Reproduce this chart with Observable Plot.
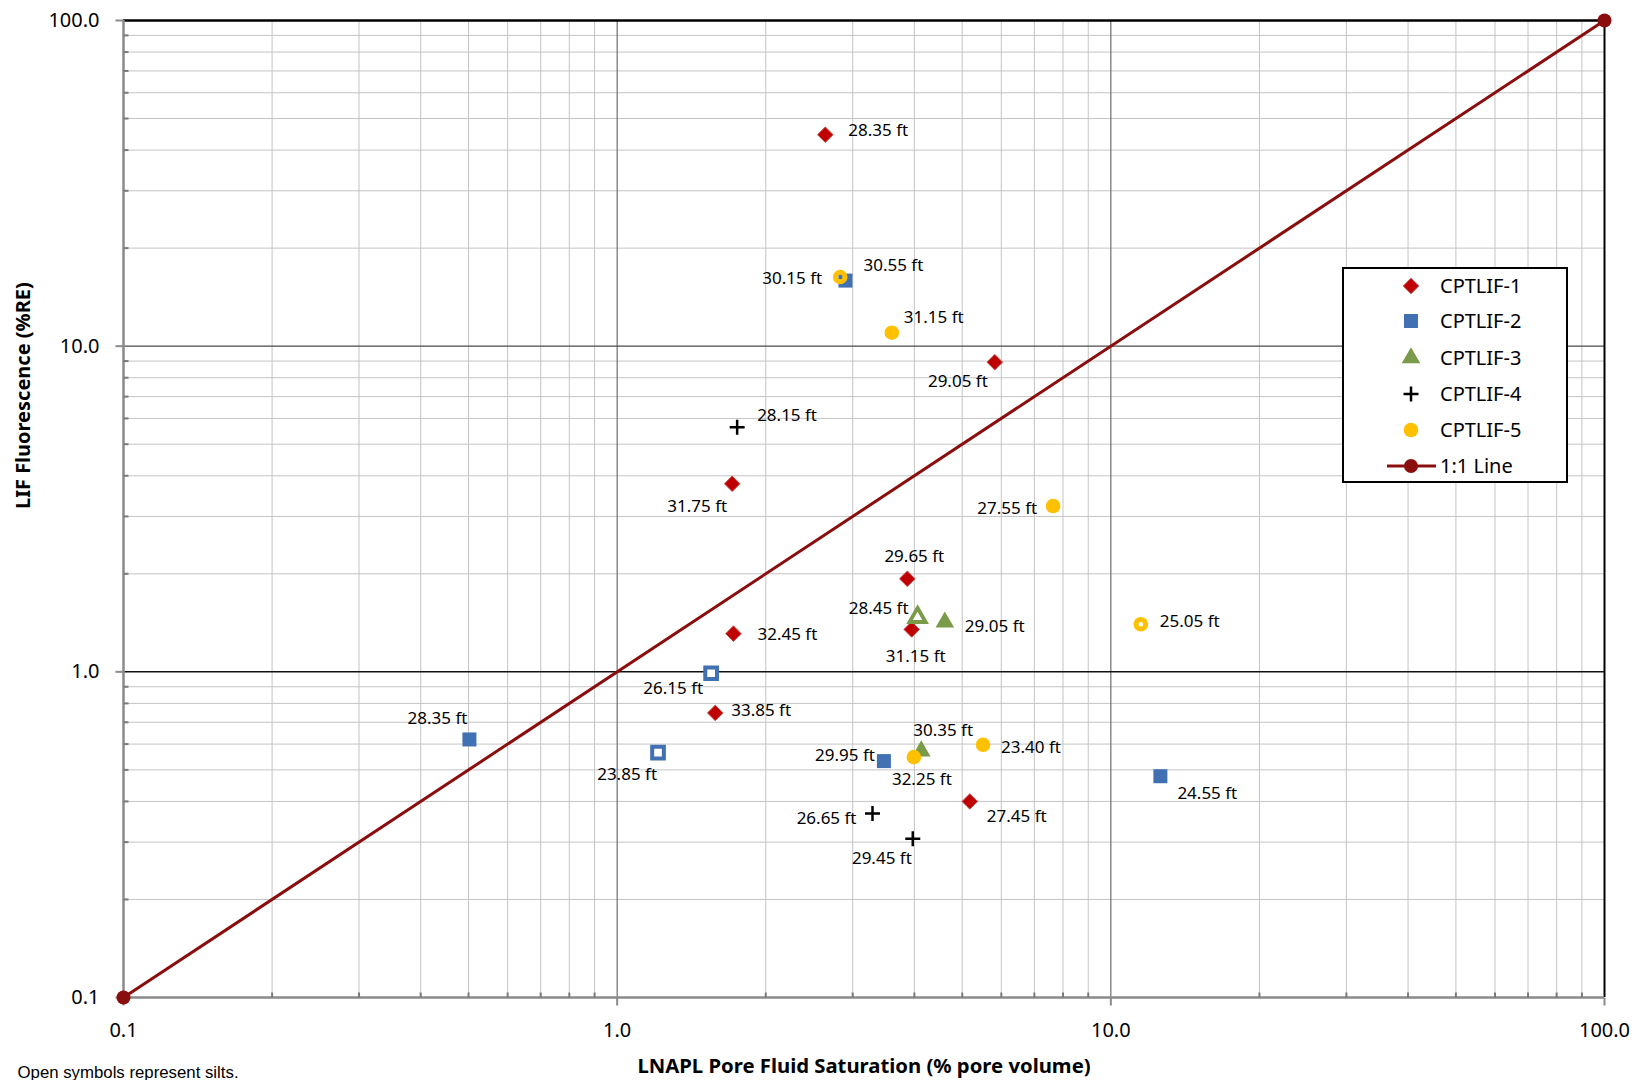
<!DOCTYPE html>
<html><head><meta charset="utf-8">
<script src="https://cdn.jsdelivr.net/npm/d3@7"></script>
<script src="https://cdn.jsdelivr.net/npm/@observablehq/plot@0.6"></script>
<style>
body{margin:0;background:#fff;}
#wrap{position:relative;width:1644px;height:1080px;overflow:hidden;}
#legend{position:absolute;left:1342px;top:267px;width:222px;height:212px;border:2px solid #000;background:#fff;font-family:"Noto Sans";font-size:20px;color:#000;}
#legend .row{position:absolute;left:0;height:36px;width:220px;}
#legend svg{position:absolute;left:0;top:0;}
#legend span{position:absolute;left:96px;top:4px;line-height:28px;}
</style></head><body><div id="wrap"></div><script>
// ---- data ----
const seriesNames = ["CPTLIF-1","CPTLIF-2","CPTLIF-3","CPTLIF-4","CPTLIF-5"];

const c1Depth = ["28.35 ft","29.05 ft","31.75 ft","29.65 ft","31.15 ft","32.45 ft","33.85 ft","27.45 ft"];
const c1Sat   = [2.64, 5.82, 1.71, 3.87, 3.95, 1.72, 1.58, 5.18];
const c1LIF   = [44.6, 8.93, 3.78, 1.93, 1.35, 1.31, 0.748, 0.400];
const c1Silt  = [false,false,false,false,false,false,false,false];

const c2Depth = ["30.55 ft","26.15 ft","28.35 ft","23.85 ft","29.95 ft","24.55 ft"];
const c2Sat   = [2.90, 1.55, 0.502, 1.21, 3.47, 12.6];
const c2LIF   = [15.9, 0.99, 0.62, 0.565, 0.532, 0.478];
const c2Silt  = [false,true,false,true,false,false];

const c3Depth = ["28.45 ft","29.05 ft","30.35 ft"];
const c3Sat   = [4.06, 4.61, 4.13];
const c3LIF   = [1.47, 1.42, 0.571];
const c3Silt  = [true,false,false];

const c4Depth = ["28.15 ft","26.65 ft","29.45 ft"];
const c4Sat   = [1.75, 3.29, 3.97];
const c4LIF   = [5.64, 0.367, 0.307];
const c4Silt  = [false,false,false];

const c5Depth = ["30.15 ft","31.15 ft","27.55 ft","25.05 ft","23.40 ft","32.25 ft"];
const c5Sat   = [2.83, 3.60, 7.64, 11.5, 5.51, 3.99];
const c5LIF   = [16.3, 11.0, 3.23, 1.40, 0.597, 0.547];
const c5Silt  = [true,false,false,true,false,false];

const oneToOne = [0.1, 100];
const majorTicks = [0.1, 1, 10, 100];
const xTitle = "LNAPL Pore Fluid Saturation (% pore volume)";
const yTitle = "LIF Fluorescence (%RE)";
const footnote = "Open symbols represent silts.";

// label placement (annotation styling): [dx, dy, textAnchor]
const labelPlacement = {
  "CPTLIF-1|28.35 ft":[23,-4,"start"], "CPTLIF-1|29.05 ft":[-7,19,"end"],
  "CPTLIF-1|31.75 ft":[-5,23,"end"],   "CPTLIF-1|29.65 ft":[7,-22,"middle"],
  "CPTLIF-1|31.15 ft":[4,27,"middle"], "CPTLIF-1|32.45 ft":[24,1,"start"],
  "CPTLIF-1|33.85 ft":[16,-2,"start"], "CPTLIF-1|27.45 ft":[17,15,"start"],
  "CPTLIF-2|30.55 ft":[18,-15,"start"], "CPTLIF-2|26.15 ft":[-8,15,"end"],
  "CPTLIF-2|28.35 ft":[-2,-21,"end"],  "CPTLIF-2|23.85 ft":[-1,22,"end"],
  "CPTLIF-2|29.95 ft":[-9,-6,"end"],   "CPTLIF-2|24.55 ft":[17,17,"start"],
  "CPTLIF-3|28.45 ft":[-9,-9,"end"],   "CPTLIF-3|29.05 ft":[20,4,"start"],
  "CPTLIF-3|30.35 ft":[-8,-21,"start"],
  "CPTLIF-4|28.15 ft":[20,-12,"start"], "CPTLIF-4|26.65 ft":[-16,5,"end"],
  "CPTLIF-4|29.45 ft":[-1,20,"end"],
  "CPTLIF-5|30.15 ft":[-18,1,"end"],   "CPTLIF-5|31.15 ft":[12,-15,"start"],
  "CPTLIF-5|27.55 ft":[-16,3,"end"],   "CPTLIF-5|25.05 ft":[19,-3,"start"],
  "CPTLIF-5|23.40 ft":[18,3,"start"],  "CPTLIF-5|32.25 ft":[8,22,"middle"]
};

// ---- build table ----
const groups = [[c1Depth,c1Sat,c1LIF,c1Silt],[c2Depth,c2Sat,c2LIF,c2Silt],[c3Depth,c3Sat,c3LIF,c3Silt],[c4Depth,c4Sat,c4LIF,c4Silt],[c5Depth,c5Sat,c5LIF,c5Silt]];
const points = [];
groups.forEach(([dep,sat,lif,silt],i)=>dep.forEach((d,j)=>points.push({series:seriesNames[i],depth:d,sat:sat[j],lif:lif[j],silt:silt[j]})));

const plusSym = {draw(c,size){const r=Math.sqrt(size/Math.PI);c.moveTo(-r,0);c.lineTo(r,0);c.moveTo(0,-r);c.lineTo(0,r);}};
const tickUp = {draw(c){c.moveTo(0,0);c.lineTo(0,-5);}};
const tickRight = {draw(c){c.moveTo(0,0);c.lineTo(5,0);}};
const tickDown = {draw(c){c.moveTo(0,0);c.lineTo(0,8);}};
const tickLeft = {draw(c){c.moveTo(0,0);c.lineTo(-8,0);}};

const RED="#c00000", BLUE="#4170b3", GREEN="#7a9b49", YEL="#ffc000", LINE="#8b0e0e";
const styles = {
  "CPTLIF-1": {filled:{symbol:"diamond2", r:7.0, fill:RED, stroke:"#c0504d", strokeWidth:1}},
  "CPTLIF-2": {filled:{symbol:"square", r:7.9, fill:BLUE}, open:{symbol:"square", r:6.6, fill:"#fff", stroke:BLUE, strokeWidth:4}},
  "CPTLIF-3": {filled:{symbol:"triangle", r:6.9, fill:GREEN}, open:{symbol:"triangle", r:6.0, fill:"#fff", stroke:GREEN, strokeWidth:3.8}},
  "CPTLIF-4": {filled:{symbol:plusSym, r:7.5, fill:"none", stroke:"#000", strokeWidth:2.5}},
  "CPTLIF-5": {filled:{symbol:"circle", r:7.3, fill:YEL}, open:{symbol:"circle", r:4.8, fill:"none", stroke:YEL, strokeWidth:5}}
};

const allTicks = d3.scaleLog().domain([0.1,100]).ticks();
const minor = allTicks.filter(t=>!majorTicks.some(m=>Math.abs(m-t)<1e-9));

const marks = [
  Plot.ruleX(minor, {stroke:"#c4c4c4", strokeWidth:1}),
  Plot.ruleY(minor, {stroke:"#c4c4c4", strokeWidth:1}),
  Plot.ruleX([1,10], {stroke:"#6e6e6e", strokeWidth:1.2}),
  Plot.ruleY([10], {stroke:"#4a4a4a", strokeWidth:1.3}),
  Plot.ruleY([1], {stroke:"#111", strokeWidth:1.5}),
  Plot.ruleY([100], {stroke:"#000", strokeWidth:2.5}),
  Plot.ruleX([100], {stroke:"#000", strokeWidth:2}),
  Plot.ruleX([0.1], {stroke:"#8a8a8a", strokeWidth:2.5}),
  Plot.ruleY([0.1], {stroke:"#8a8a8a", strokeWidth:2.5}),
  Plot.dot(minor, {x:d=>d, y:()=>0.1, symbol:tickUp, r:3, fill:"none", stroke:"#7a7a7a", strokeWidth:2}),
  Plot.dot(minor, {x:()=>0.1, y:d=>d, symbol:tickRight, r:3, fill:"none", stroke:"#7a7a7a", strokeWidth:2}),
  Plot.dot(majorTicks, {x:d=>d, y:()=>0.1, symbol:tickDown, r:3, fill:"none", stroke:"#8a8a8a", strokeWidth:2}),
  Plot.dot(majorTicks, {x:()=>0.1, y:d=>d, symbol:tickLeft, r:3, fill:"none", stroke:"#8a8a8a", strokeWidth:2}),
  Plot.line(oneToOne, {x:d=>d, y:d=>d, stroke:LINE, strokeWidth:3})
];
seriesNames.forEach(s=>{
  const st = styles[s];
  const f = points.filter(p=>p.series===s && !p.silt);
  const o = points.filter(p=>p.series===s && p.silt);
  marks.push(Plot.dot(f, {x:"sat", y:"lif", ...st.filled}));
  if (o.length) marks.push(Plot.dot(o, {x:"sat", y:"lif", ...st.open}));
});
marks.push(Plot.dot(oneToOne, {x:d=>d, y:d=>d, r:7, fill:LINE}));
points.forEach(p=>{
  const [dx,dy,anchor] = labelPlacement[p.series+"|"+p.depth] || [15,0,"start"];
  marks.push(Plot.text([p], {x:"sat", y:"lif", text:"depth", dx, dy, textAnchor:anchor, fontSize:17, fill:"#000"}));
});
marks.push(Plot.text([xTitle], {text:d=>d, frameAnchor:"bottom", dy:75, fontSize:20.3, fontWeight:"bold", fill:"#000"}));
marks.push(Plot.text([yTitle], {text:d=>d, frameAnchor:"left", dx:-100, rotate:-90, fontSize:20, fontWeight:"bold", fill:"#000"}));
marks.push(Plot.text([footnote], {text:d=>d, frameAnchor:"bottom-left", dx:-106, dy:80, textAnchor:"start", fontSize:16.8, fontFamily:"Liberation Sans", fill:"#000"}));

const chart = Plot.plot({
  width:1644, height:1080,
  marginLeft:123, marginRight:40, marginTop:20, marginBottom:83,
  style:{fontFamily:"Noto Sans", fontSize:"20px", color:"#000", background:"transparent", overflow:"visible"},
  x:{type:"log", domain:[0.1,100], ticks:majorTicks, tickFormat:d=>d.toFixed(1), tickSize:0, tickPadding:25, label:null},
  y:{type:"log", domain:[0.1,100], ticks:majorTicks, tickFormat:d=>d.toFixed(1), tickSize:0, tickPadding:24, label:null},
  marks
});
const wrap = document.getElementById("wrap");
wrap.appendChild(chart);

// ---- legend ----
const legend = document.createElement("div");
legend.id = "legend";
wrap.appendChild(legend);
const rowTops = [-1,34,71,107,143,179];
const legendItems = seriesNames.concat(["1:1 Line"]);
legendItems.forEach((name,i)=>{
  const row = d3.select(legend).append("div").attr("class","row").style("top", rowTops[i]+"px");
  const svg = row.append("svg").attr("width",100).attr("height",36);
  const g = svg.append("g").attr("transform","translate(67,18)");
  if (name === "1:1 Line") {
    g.append("line").attr("x1",-24).attr("x2",25).attr("stroke",LINE).attr("stroke-width",3);
    g.append("circle").attr("r",7).attr("fill",LINE);
  } else {
    const st = styles[name].filled;
    const symMap = {diamond2:d3.symbolDiamond2, square:d3.symbolSquare, triangle:d3.symbolTriangle, circle:d3.symbolCircle};
    const sym = typeof st.symbol === "string" ? symMap[st.symbol] : st.symbol;
    g.append("path").attr("d", d3.symbol(sym, Math.PI*st.r*st.r)())
      .attr("fill", st.fill).attr("stroke", st.stroke || "none").attr("stroke-width", st.strokeWidth || 0);
  }
  row.append("span").text(name);
});
</script></body></html>
